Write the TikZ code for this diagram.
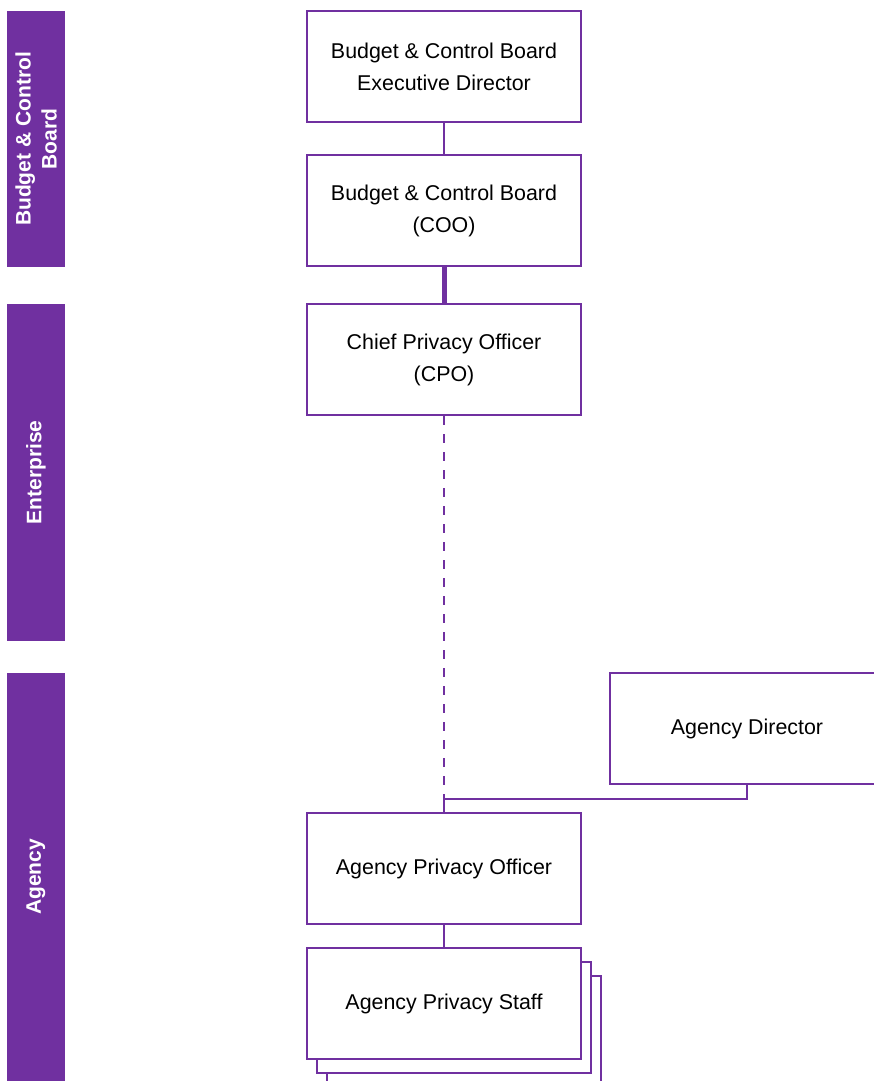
\documentclass[tikz,border=0pt]{standalone}
\usepackage{fontspec}
\setmainfont{Liberation Sans}
\definecolor{vio}{HTML}{7030A0}
\begin{document}
\begin{tikzpicture}[x=1pt,y=1pt,
  orgbox/.style={draw=vio, line width=2pt, fill=white, minimum width=274pt, minimum height=111pt, inner sep=0pt, align=center, font=\fontsize{21.4}{32}\selectfont, text=black},
  bar/.style={fill=vio, rotate=90, inner sep=0pt, minimum height=58pt, align=center, text=white, font=\bfseries\fontsize{21}{26}\selectfont},
  conn/.style={draw=vio, line width=2pt}]
\useasboundingbox (0,0) rectangle (873,-1081);
% side bars
\node[bar, minimum width=256pt] (bcb) at (36,-139) {Budget \& Control\\Board};
\node[bar, minimum width=337pt] (ent) at (36,-472.5) {Enterprise};
\node[bar, minimum width=408pt] (agy) at (36,-877) {Agency};
% boxes
\node[orgbox] (ed) at (444,-66.5) {Budget \& Control Board\\Executive Director};
\node[orgbox] (coo) at (444,-210.5) {Budget \& Control Board\\(COO)};
\node[orgbox] (cpo) at (444,-359.5) {Chief Privacy Officer\\(CPO)};
\node[orgbox] (dir) at (747,-728.5) {Agency Director};
\node[orgbox] (apo) at (444,-868.5) {Agency Privacy Officer};
\node[orgbox] (st3) at (464,-1031.5) {};
\node[orgbox] (st2) at (454,-1017.5) {};
\node[orgbox] (st) at (444,-1003.5) {Agency Privacy Staff};
% connectors
\coordinate (j) at (444,-799);
\draw[conn] (ed.south) -- (coo.north);
\draw[conn, line width=5pt] (coo.south) -- (cpo.north);
\draw[conn, dash pattern=on 9pt off 9pt] (cpo.south) -- (j);
\draw[conn] (dir.south) |- (j) -- (apo.north);
\draw[conn] (apo.south) -- (st.north);
\end{tikzpicture}
\end{document}
